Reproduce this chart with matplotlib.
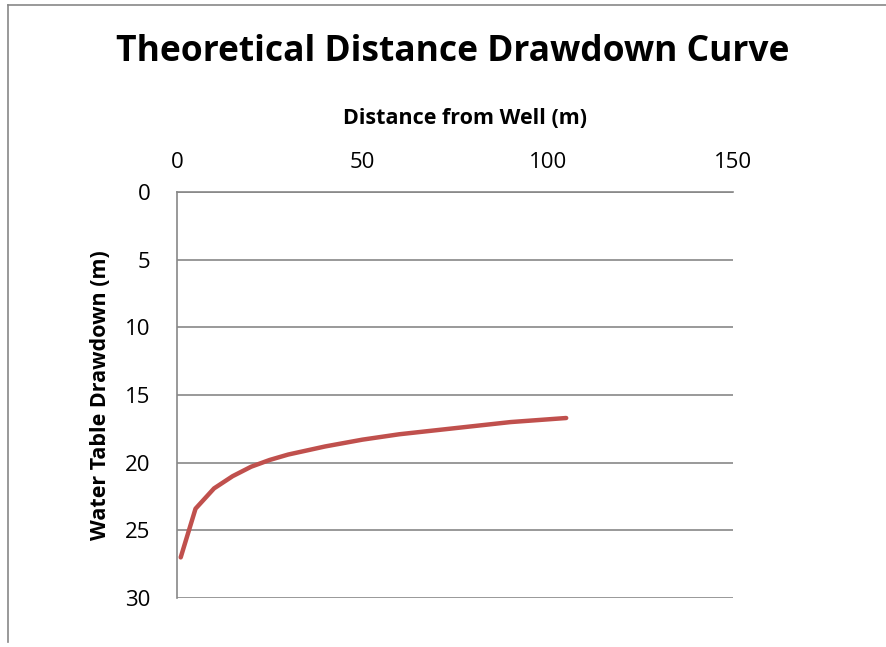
import matplotlib
matplotlib.use("Agg")
import matplotlib.pyplot as plt
from matplotlib.lines import Line2D

distance = [1, 5, 10, 15, 20, 25, 30, 40, 50, 60, 70, 80, 90, 100, 105]
drawdown = [27.0, 23.4, 21.9, 21.0, 20.3, 19.8, 19.4, 18.8, 18.3, 17.9, 17.6, 17.3, 17.0, 16.8, 16.7]
xticks = [0, 50, 100, 150]
yticks = [0, 5, 10, 15, 20, 25, 30]

plt.rcParams['font.family'] = ['Open Sans', 'DejaVu Sans']

W, H = 886, 647
fig = plt.figure(figsize=(W / 100, H / 100), dpi=100)
ax = fig.add_axes([177 / W, 1 - 598 / H, (733 - 177) / W, (598 - 192) / H])

ax.plot(distance, drawdown, color='#C0504D', linewidth=3.2, solid_capstyle='round')
ax.set_xlim(0, 150)
ax.set_ylim(30, 0)
ax.set_xticks(xticks)
ax.set_yticks(yticks)
ax.xaxis.tick_top()
ax.tick_params(axis='both', length=0, labelsize=16, colors='black')
ax.tick_params(axis='x', pad=14)
ax.tick_params(axis='y', pad=19)
ax.grid(axis='y', color='#878787', linewidth=1.2)
for s in ['right', 'bottom']:
    ax.spines[s].set_visible(False)
for s in ['left', 'top']:
    ax.spines[s].set_color('#878787')
    ax.spines[s].set_linewidth(1.2)
ax.set_axisbelow(True)

fig.text(453 / W, 1 - 52 / H, 'Theoretical Distance Drawdown Curve', ha='center', va='center',
         fontsize=25.5, fontweight='bold')
fig.text(465 / W, 1 - 118 / H, 'Distance from Well (m)', ha='center', va='center',
         fontsize=15.5, fontweight='bold')
fig.text(101 / W, 1 - 395 / H, 'Water Table Drawdown (m)', ha='center', va='center',
         fontsize=15.5, fontweight='bold', rotation=90)

fig.add_artist(Line2D([8 / W, 1], [1 - 5 / H, 1 - 5 / H], color='#878787', linewidth=1.2))
fig.add_artist(Line2D([8 / W, 8 / W], [1 - 5 / H, 1 - 642 / H], color='#878787', linewidth=1.2))

fig.savefig('out.png', dpi=100)
